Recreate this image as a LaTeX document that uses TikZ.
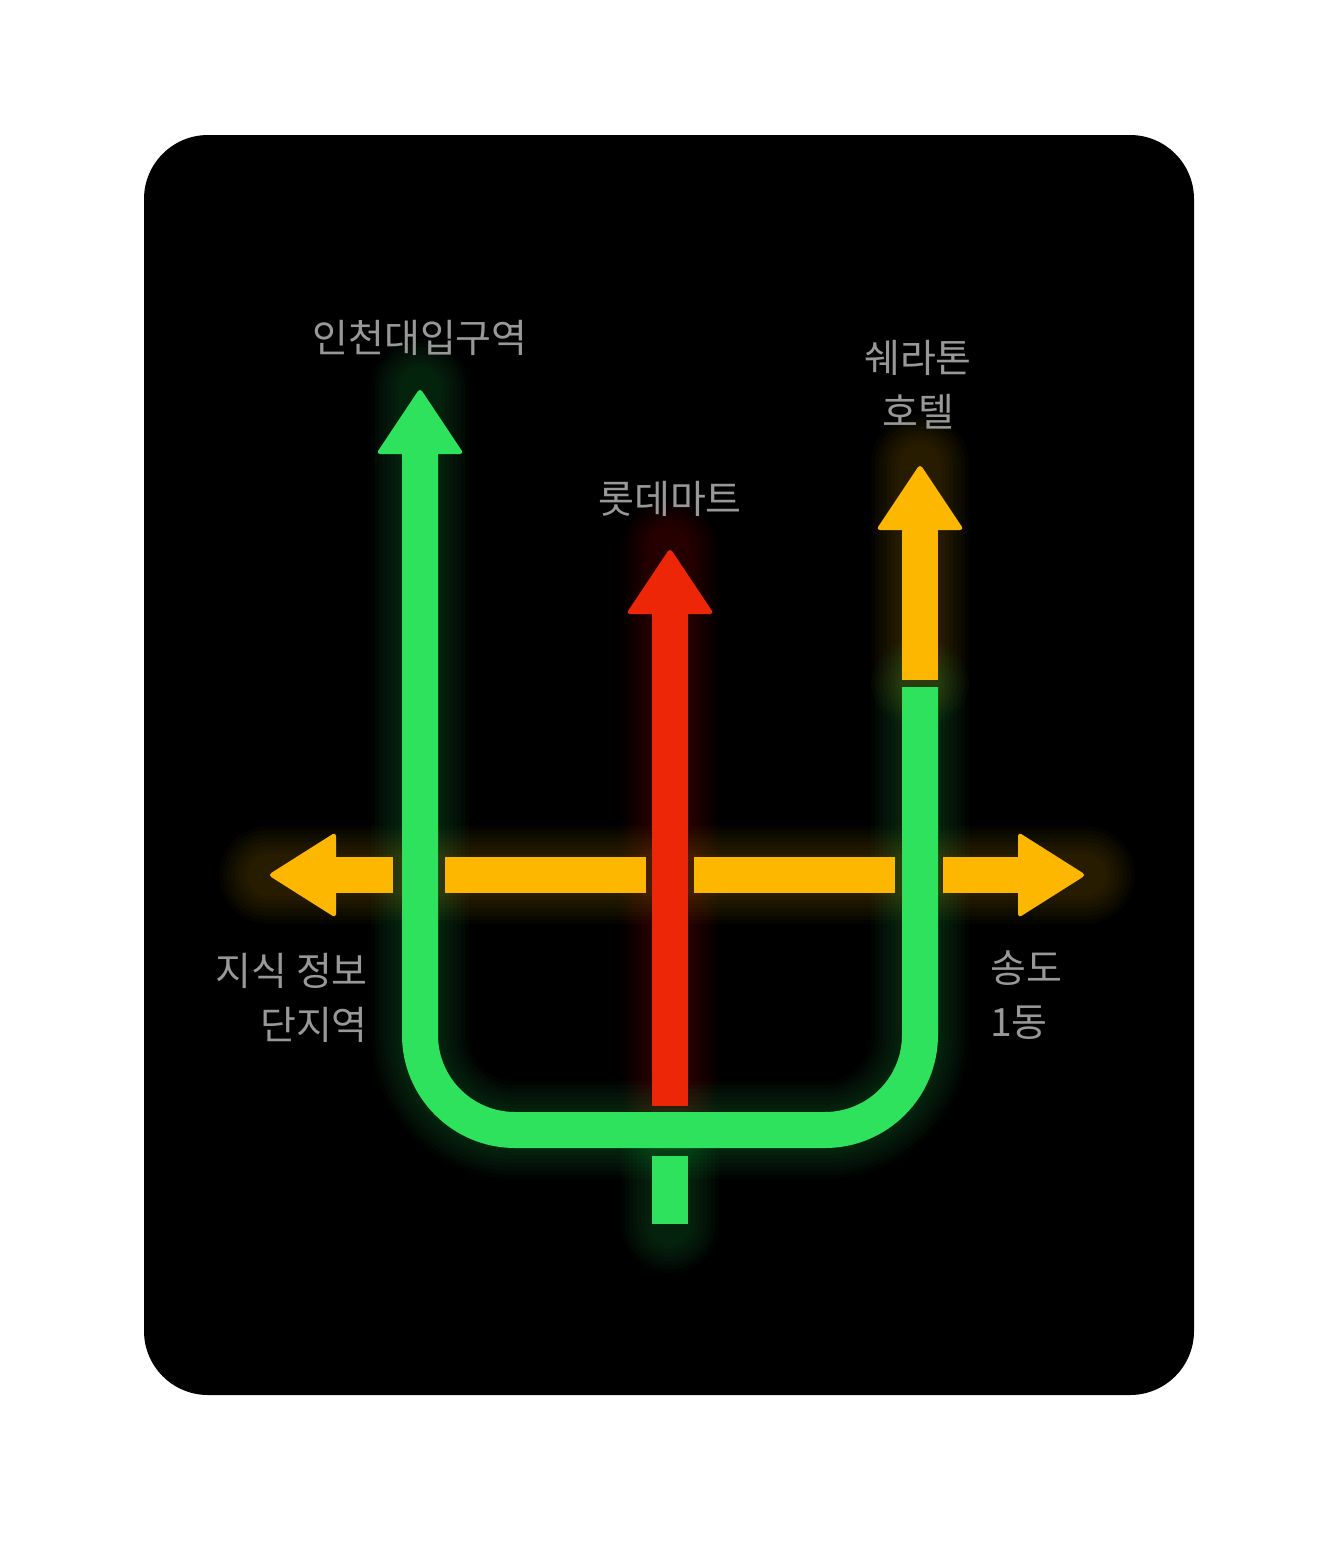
\documentclass[tikz,border=0pt]{standalone}
\usepackage{fontspec}
\newfontfamily\krfont{Noto Sans CJK KR}
\usetikzlibrary{calc}
\definecolor{lnGreen}{RGB}{46,226,94}
\definecolor{lnYellow}{RGB}{253,183,0}
\definecolor{lnRed}{RGB}{238,38,8}
\definecolor{lblGray}{RGB}{152,152,152}
\tikzset{
  barln/.style={line width=36pt},
  glowln/.style={line cap=round, line join=round, opacity=0.022},
  lbl/.style={text=lblGray, font=\krfont\fontsize{39}{54}\selectfont, inner sep=0pt},
}
\newcommand{\glowpath}[2]{%
  \foreach \w in {42,50,...,98}{\draw[glowln, #1, line width=\w pt] #2;}%
}
\newcommand{\headup}[2]{%
  \fill[#1, rounded corners=4pt] ($(#2)+(-44,66)$) -- (#2) -- ($(#2)+(44,66)$) -- cycle;
}
\newcommand{\headleft}[2]{%
  \fill[#1, rounded corners=4pt] ($(#2)+(68,-43)$) -- (#2) -- ($(#2)+(68,43)$) -- cycle;
}
\newcommand{\headright}[2]{%
  \fill[#1, rounded corners=4pt] ($(#2)+(-68,-43)$) -- (#2) -- ($(#2)+(-68,43)$) -- cycle;
}

\begin{document}
\begin{tikzpicture}[x=1pt, y=-1pt]
  \useasboundingbox (0,0) rectangle (1338,1548);
  \fill[white] (0,0) rectangle (1338,1548);
  % card and its soft shadow
  \foreach \i in {1,...,12}{
    \pgfmathsetmacro\rr{64+\i*7}
    \fill[black, opacity=0.0016, rounded corners=\rr pt]
      (144-\i*7,135-\i*7) rectangle (1194+\i*7,1395+\i*7);
  }
  \fill[black, rounded corners=64pt] (144,135) rectangle (1194,1395);

  % end points
  \coordinate (gTip) at (420,388);
  \coordinate (gL) at (420,450);
  \coordinate (gBl) at (420,1130);
  \coordinate (gBr) at (920,1130);
  \coordinate (gR) at (920,687);
  \coordinate (rTip) at (670,548);
  \coordinate (rTop) at (670,610);
  \coordinate (rBot) at (670,1106);
  \coordinate (sTop) at (670,1156);
  \coordinate (sBot) at (670,1224);
  \coordinate (yTip) at (920,464);
  \coordinate (yTop) at (920,525);
  \coordinate (yBot) at (920,680);
  \coordinate (hLtip) at (268,875);
  \coordinate (hRtip) at (1086,875);

  % glow
  \glowpath{lnYellow}{(hLtip) -- (hRtip)}
  \glowpath{lnYellow}{(yTip) -- (yBot)}
  \glowpath{lnRed}{(rTip) -- (rBot)}
  \glowpath{lnGreen}{[rounded corners=95pt] (gTip) -- (gBl) -- (gBr) -- (gR)}
  \glowpath{lnGreen}{(sTop) -- (sBot)}

  % horizontal line, broken at the crossings
  \draw[barln, lnYellow] (330,875) -- (393,875);
  \draw[barln, lnYellow] (445,875) -- (646,875);
  \draw[barln, lnYellow] (694,875) -- (895,875);
  \draw[barln, lnYellow] (943,875) -- (1024,875);
  \headleft{lnYellow}{hLtip}
  \headright{lnYellow}{hRtip}

  % vertical lines
  \draw[barln, lnGreen, rounded corners=95pt] (gL) -- (gBl) -- (gBr) -- (gR);
  \draw[barln, lnGreen] (sTop) -- (sBot);
  \draw[barln, lnRed] (rTop) -- (rBot);
  \draw[barln, lnYellow] (yTop) -- (yBot);
  \headup{lnGreen}{gTip}
  \headup{lnRed}{rTip}
  \headup{lnYellow}{yTip}

  % labels
  \node[lbl] (lblIncheon) at (420,338) {인천대입구역};
  \node[lbl, align=center] (lblSheraton) at (918,385) {쉐라톤\\호텔};
  \node[lbl] (lblLotte) at (670,499) {롯데마트};
  \node[lbl, align=right, anchor=east] (lblJisik) at (368,998) {지식 정보\\단지역};
  \node[lbl, align=left, anchor=west] (lblSongdo) at (990,995) {송도\\1동};
\end{tikzpicture}
\end{document}
